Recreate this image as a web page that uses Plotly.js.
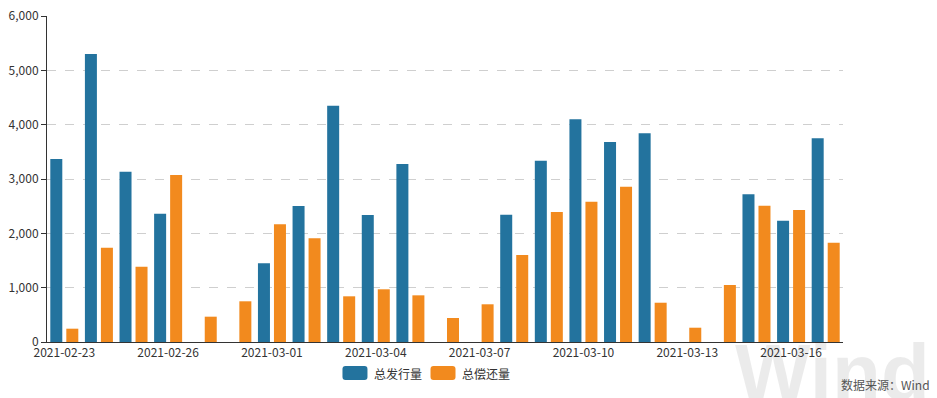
<!DOCTYPE html>
<html>
<head>
<meta charset="utf-8">
<script src="https://cdn.plot.ly/plotly-3.0.1.min.js"></script>
<style>html,body{margin:0;padding:0;background:#fff;}#chart{width:937px;height:398px;}</style>
</head>
<body>
<div id="chart"></div>
<script>
const dates = ["2021-02-23","2021-02-24","2021-02-25","2021-02-26","2021-02-27","2021-02-28","2021-03-01","2021-03-02","2021-03-03","2021-03-04","2021-03-05","2021-03-06","2021-03-07","2021-03-08","2021-03-09","2021-03-10","2021-03-11","2021-03-12","2021-03-13","2021-03-14","2021-03-15","2021-03-16","2021-03-17"];
const issuance = [3370,5300,3135,2360,0,0,1448,2503,4350,2337,3276,0,0,2343,3337,4099,3681,3841,0,0,2718,2233,3749];
const repayment = [245,1736,1387,3074,466,749,2166,1908,841,970,859,442,694,1601,2393,2582,2858,723,263,1049,2509,2430,1828];
const seriesNames = ["总发行量","总偿还量"];
const yTicks = [0,1000,2000,3000,4000,5000,6000];
const sourceText = "数据来源：Wind";
const watermarkText = "Wind";

const blue = "#23739e";
const orange = "#f28a1e";
const font = "'Noto Sans CJK SC', 'Noto Sans', sans-serif";

const tickLabelVals = dates.filter((d,i)=>i%3===0);
const boundaryTicks = dates.map((d,i)=>i+0.5).filter((v,i)=>i%3===1);

const traces = [
  {type:"bar", name:seriesNames[0], x:dates, y:issuance, marker:{color:blue}, showlegend:false, hoverinfo:"x+y+name"},
  {type:"bar", name:seriesNames[1], x:dates, y:repayment, marker:{color:orange}, showlegend:false, hoverinfo:"x+y+name"}
];

function pill(cx, cy, color){
  const w=12.5, h=7, r=3;
  const p = `M${-w+r},${-h} L${w-r},${-h} Q${w},${-h} ${w},${-h+r} L${w},${h-r} Q${w},${h} ${w-r},${h} L${-w+r},${h} Q${-w},${h} ${-w},${h-r} L${-w},${-h+r} Q${-w},${-h} ${-w+r},${-h} Z`;
  return {type:"path", xref:"paper", yref:"paper", xsizemode:"pixel", ysizemode:"pixel", xanchor:cx, yanchor:cy, path:p, fillcolor:color, line:{width:0}};
}

const tickShapes = boundaryTicks.map(v => ({
  type:"line", xref:"x", yref:"y", ysizemode:"pixel", yanchor:0,
  x0:v, x1:v, y0:0, y1:-5, line:{color:"#333", width:1}
}));

const layout = {
  width:937, height:398,
  margin:{l:47, r:94, t:16, b:56},
  paper_bgcolor:"#fff", plot_bgcolor:"#fff",
  font:{family:font, size:12, color:"#333"},
  barmode:"group", bargap:0.075, bargroupgap:0.25,
  xaxis:{
    type:"category", categoryorder:"array", categoryarray:dates,
    range:[-0.5, dates.length-0.5],
    tickmode:"array", tickvals:tickLabelVals, ticktext:tickLabelVals,
    ticks:"", showgrid:false, zeroline:false,
    showline:true, linecolor:"#333", linewidth:1,
    tickfont:{family:font, size:12, color:"#333"}
  },
  yaxis:{
    range:[0,6000], tickmode:"array", tickvals:yTicks,
    tickformat:",d",
    showgrid:true, gridcolor:"#cfcfcf", griddash:"dash", gridwidth:1,
    zeroline:false, showline:true, linecolor:"#333", linewidth:1,
    ticks:"outside", ticklen:5, tickcolor:"#333",
    tickfont:{family:font, size:12, color:"#333"}
  },
  shapes:[ pill(0.3869, -0.0951, blue), pill(0.4975, -0.0951, orange) ].concat(tickShapes),
  annotations:[
    {xref:"paper", yref:"paper", x:0.862, y:0.05, xanchor:"left", yanchor:"top", text:"<b>"+watermarkText+"</b>", showarrow:false,
     font:{family:"'Liberation Sans', sans-serif", size:80, color:"rgba(0,0,0,0.08)"}},
    {xref:"paper", yref:"paper", x:0.4083, y:-0.0951, xanchor:"left", yanchor:"middle", text:seriesNames[0], showarrow:false,
     font:{family:font, size:12, color:"#333"}},
    {xref:"paper", yref:"paper", x:0.5188, y:-0.0951, xanchor:"left", yanchor:"middle", text:seriesNames[1], showarrow:false,
     font:{family:font, size:12, color:"#333"}},
    {xref:"paper", yref:"paper", x:1.1118, y:-0.1319, xanchor:"right", yanchor:"middle", text:sourceText, showarrow:false,
     font:{family:font, size:12, color:"#555"}}
  ]
};

Plotly.newPlot("chart", traces, layout, {displayModeBar:false, staticPlot:true});
</script>
</body>
</html>
